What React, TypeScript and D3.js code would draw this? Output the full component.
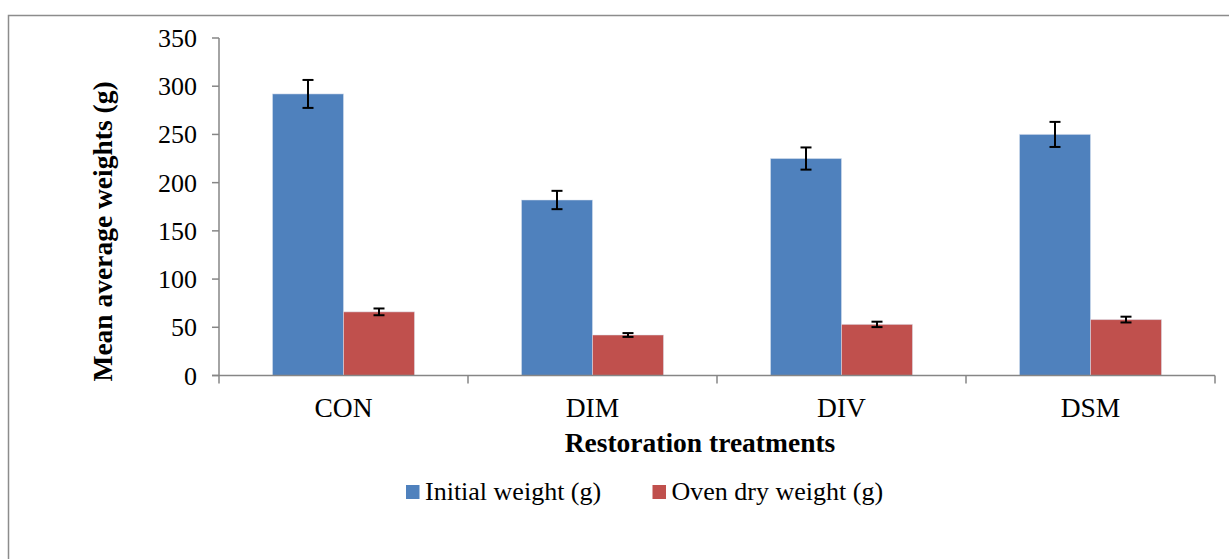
import React from "react";
import * as d3 from "d3";

const categories = ["CON", "DIM", "DIV", "DSM"];
const initialWeight = [292, 182, 225, 250];
const initialErr = [14.5, 9.5, 11.5, 13];
const ovenDryWeight = [66, 42, 53, 58];
const ovenDryErr = [3.5, 2, 2.8, 3];
const yTicks = [0, 50, 100, 150, 200, 250, 300, 350];
const seriesNames = ["Initial weight (g)", "Oven dry weight (g)"];
const colors = ["#4F81BD", "#C0504D"];

const W = 1229;
const H = 559;
const plot = { left: 219, right: 1215, top: 38, bottom: 375.5 };
const font = "'Liberation Serif', 'Times New Roman', serif";

export default function App() {
  const x = d3
    .scaleBand<string>()
    .domain(categories)
    .range([plot.left, plot.right])
    .paddingInner(0)
    .paddingOuter(0);
  const y = d3.scaleLinear().domain([0, 350]).range([plot.bottom, plot.top]);

  const barW = 71;
  const series = [
    { vals: initialWeight, errs: initialErr },
    { vals: ovenDryWeight, errs: ovenDryErr },
  ];

  return (
    <svg
      width={W}
      height={H}
      style={{ position: "absolute", top: 0, left: 0, background: "#fff" }}
      fontFamily={font}
    >
      <rect x={8.5} y={15.5} width={1240} height={560} fill="none" stroke="#8c8c8c" strokeWidth={1.5} />

      {/* bars */}
      {categories.map((c, i) => {
        const center = (x(c) as number) + x.bandwidth() / 2;
        return series.map((s, j) => {
          const bx = center - barW + j * barW;
          return (
            <rect
              key={c + j}
              x={bx}
              y={y(s.vals[i])}
              width={barW}
              height={y(0) - y(s.vals[i])}
              fill={colors[j]}
              stroke="#dbe4f0"
              strokeOpacity={0.5}
              strokeWidth={1}
            />
          );
        });
      })}

      {/* error bars */}
      {categories.map((c, i) => {
        const center = (x(c) as number) + x.bandwidth() / 2;
        return series.map((s, j) => {
          const ex = center - barW / 2 + j * barW;
          const hi = y(s.vals[i] + s.errs[i]);
          const lo = y(s.vals[i] - s.errs[i]);
          return (
            <g key={"e" + c + j} stroke="#000" strokeWidth={2}>
              <line x1={ex} x2={ex} y1={hi} y2={lo} />
              <line x1={ex - 5.5} x2={ex + 5.5} y1={hi} y2={hi} />
              <line x1={ex - 5.5} x2={ex + 5.5} y1={lo} y2={lo} />
            </g>
          );
        });
      })}

      {/* y axis */}
      <line x1={plot.left} x2={plot.left} y1={plot.top} y2={plot.bottom} stroke="#868686" strokeWidth={1.5} />
      {yTicks.map((t) => (
        <g key={t}>
          <line x1={plot.left - 7} x2={plot.left} y1={y(t)} y2={y(t)} stroke="#868686" strokeWidth={1.5} />
          <text x={197} y={y(t) + 9} textAnchor="end" fontSize={26}>
            {t}
          </text>
        </g>
      ))}

      {/* x axis */}
      <line x1={plot.left - 7} x2={plot.right} y1={plot.bottom} y2={plot.bottom} stroke="#868686" strokeWidth={1.5} />
      {[...categories.map((c) => x(c) as number), plot.right].map((tx, i) => (
        <line key={i} x1={tx} x2={tx} y1={plot.bottom} y2={plot.bottom + 8} stroke="#868686" strokeWidth={1.5} />
      ))}
      {categories.map((c) => (
        <text key={c} x={(x(c) as number) + x.bandwidth() / 2} y={417} textAnchor="middle" fontSize={27.5}>
          {c}
        </text>
      ))}

      <text x={700} y={452} textAnchor="middle" fontSize={27.5} fontWeight="bold">
        Restoration treatments
      </text>
      <text
        transform={`translate(111.5, 231.5) rotate(-90)`}
        textAnchor="middle"
        fontSize={27.5}
        fontWeight="bold"
      >
        Mean average weights (g)
      </text>

      {/* legend */}
      {seriesNames.map((n, j) => {
        const lx = [406, 652.5][j];
        return (
          <g key={n}>
            <rect x={lx} y={485} width={13.5} height={14} fill={colors[j]} />
            <text x={lx + 19} y={500} fontSize={26}>
              {n}
            </text>
          </g>
        );
      })}
    </svg>
  );
}
